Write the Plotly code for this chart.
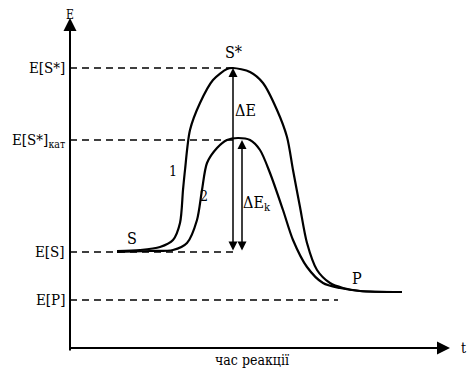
import plotly.graph_objects as go

# Energy levels (arbitrary units)
level_names = ["E[S*]", "E[S*]<sub>кат</sub>", "E[S]", "E[P]"]
level_values = [280, 208, 96, 48]
level_ends = [163, 165, 165, 268]

# Curve 1 (uncatalysed) and curve 2 (catalysed)
t1 = [47, 70, 90, 103, 110, 113, 115, 120, 130, 143, 157, 163, 180, 193, 207, 217, 223, 230, 237, 247, 260, 273, 290, 332]
e1 = [97, 98, 101, 108, 125, 158, 178, 218, 245, 268, 279, 280, 276, 265, 238, 211, 178, 141, 105, 78, 65, 60, 57, 56]
t2 = [47, 80, 103, 117, 127, 132, 137, 147, 157, 168, 180, 190, 200, 213, 223, 237, 253, 270, 290, 332]
e2 = [96, 97, 98, 105, 128, 158, 185, 200, 208, 210, 208, 198, 175, 138, 108, 81, 65, 60, 57, 56]

# Text labels on the chart
label_text = ["S*", "ΔE", "ΔE<sub>k</sub>", "1", "2", "S", "P"]
label_t = [163, 175, 187, 103, 134, 62, 287]
label_e = [296, 238, 145, 177, 152, 110, 70]

FONT = "DejaVu Serif Condensed, DejaVu Serif, serif"
fig = go.Figure()

# dashed level lines
for v, end in zip(level_values, level_ends):
    fig.add_trace(go.Scatter(x=[0, end], y=[v, v], mode="lines",
                             line=dict(color="black", width=1.5, dash="7px,5px"),
                             hoverinfo="skip", showlegend=False))

fig.add_trace(go.Scatter(x=t1, y=e1, mode="lines", line=dict(color="black", width=2.2, shape="spline", smoothing=0.8),
                         showlegend=False))
fig.add_trace(go.Scatter(x=t2, y=e2, mode="lines", line=dict(color="black", width=2.2, shape="spline", smoothing=0.8),
                         showlegend=False))

ann = []
# axes arrows
ann.append(dict(x=0, y=330, ax=0, ay=-4, xref="x", yref="y", axref="x", ayref="y",
                showarrow=True, arrowhead=2, arrowsize=1.3, arrowwidth=2, arrowcolor="black", text=""))
ann.append(dict(x=380, y=0, ax=-2, ay=0, xref="x", yref="y", axref="x", ayref="y",
                showarrow=True, arrowhead=2, arrowsize=1.3, arrowwidth=2, arrowcolor="black", text=""))
# delta arrows
ann.append(dict(x=163, y=280, ax=163, ay=96, xref="x", yref="y", axref="x", ayref="y",
                showarrow=True, arrowhead=2, startarrowhead=2, arrowside="end+start", arrowsize=1.2,
                arrowwidth=1.5, arrowcolor="black", text=""))
ann.append(dict(x=172, y=208, ax=172, ay=96, xref="x", yref="y", axref="x", ayref="y",
                showarrow=True, arrowhead=2, startarrowhead=2, arrowside="end+start", arrowsize=1.2,
                arrowwidth=1.5, arrowcolor="black", text=""))

for name, v in zip(level_names, level_values):
    ann.append(dict(x=-3, y=v, xref="x", yref="y", text=name, showarrow=False, xanchor="right",
                    yanchor="middle", font=dict(family=FONT, size=15, color="black")))
for txt, tx, ey in zip(label_text, label_t, label_e):
    ann.append(dict(x=tx, y=ey, xref="x", yref="y", text=txt, showarrow=False, xanchor="center",
                    yanchor="middle", font=dict(family=FONT, size=16 if txt not in ("1", "2") else 14, color="black")))
ann.append(dict(x=0, y=333, xref="x", yref="y", text="E", showarrow=False, font=dict(family=FONT, size=12, color="black")))
ann.append(dict(x=393, y=0, xref="x", yref="y", text="t", showarrow=False, font=dict(family=FONT, size=14, color="black")))
ann.append(dict(x=182, y=-12, xref="x", yref="y", text="час реакції", showarrow=False,
                font=dict(family=FONT, size=14, color="black")))

fig.update_layout(
    width=476, height=370, margin=dict(l=0, r=0, t=0, b=0),
    paper_bgcolor="white", plot_bgcolor="white",
    xaxis=dict(range=[-62, 414], visible=False, fixedrange=True),
    yaxis=dict(range=[-30, 340], visible=False, fixedrange=True),
    annotations=ann, showlegend=False,
)
fig.write_html("out.html")
